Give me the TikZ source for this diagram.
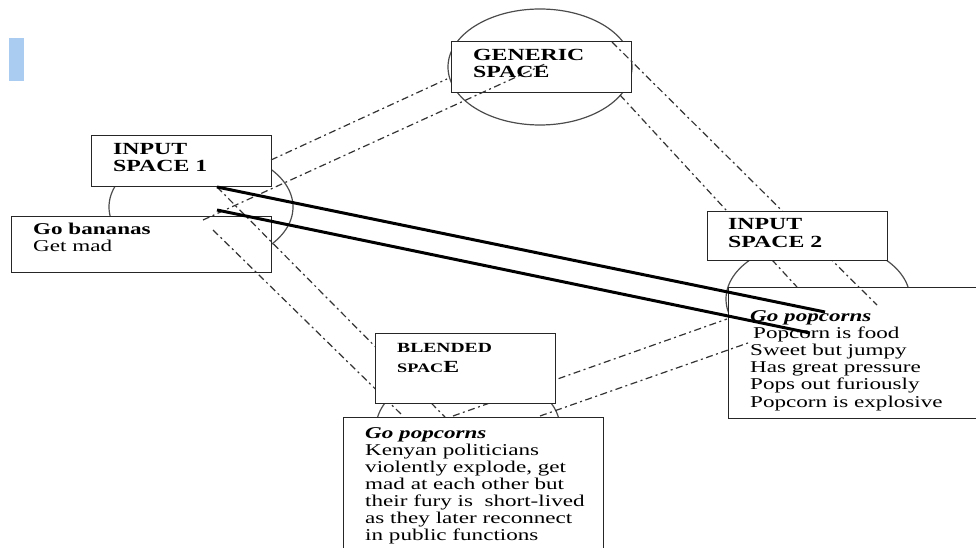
\documentclass[tikz,border=0pt]{standalone}
\usepackage{fontspec}
\setmainfont{Liberation Serif}[FakeStretch=1.4]
\usetikzlibrary{shapes.geometric}
\newcommand{\bodysz}{\fontsize{16.5bp}{17bp}\selectfont}
\newcommand{\headsz}{\fontsize{17bp}{17bp}\selectfont\bfseries}
\definecolor{tabblue}{HTML}{A9CCF0}
\begin{document}
\begin{tikzpicture}[x=1bp,y=-1bp,
  frame/.style={draw=black!85, line width=1.4bp, fill=white, anchor=north west, inner sep=0pt},
  halo/.style={ellipse, draw=black!70, line width=1.2bp, minimum width=184bp, minimum height=116bp, inner sep=0pt},
  link/.style={draw=black!80, line width=1.2bp, dash pattern=on 7bp off 3.5bp on 2bp off 3.5bp},
  tie/.style={draw=black, line width=3bp},
  txt/.style={anchor=base west, inner sep=0pt},
]
\useasboundingbox (0,0) rectangle (976,548);
\clip (0,0) rectangle (976,548);

% side tab
\fill[tabblue] (9,38) rectangle (24,81);

% ellipses behind the space boxes
\node[halo] (in1E) at (201,207) {};
\node[halo] (genE) at (540,67) {};
\node[halo] (in2E) at (818,299) {};
\node[halo] (bldE) at (468,428) {};

% boxes that the mapping lines run over
\node[frame, minimum width=180bp, minimum height=51bp]  (in1) at (91,135) {};
\node[frame, minimum width=260bp, minimum height=56bp]  (ban) at (11,216) {};
\node[frame, minimum width=180bp, minimum height=51bp]  (gen) at (451,41) {};
\node[frame, minimum width=262bp, minimum height=131bp] (pop) at (728,287) {};
\node[frame, minimum width=260bp, minimum height=143bp] (bot) at (343,417) {};

% end points of the mapping lines
\coordinate (g1a) at (271,160); \coordinate (g1b) at (447,79);
\coordinate (g2a) at (203,220); \coordinate (g2b) at (547,63);
\coordinate (ga)  at (612,42);  \coordinate (gb)  at (877,305);
\coordinate (ha)  at (620,95);  \coordinate (hb)  at (797,287);
\coordinate (e1a) at (217,187); \coordinate (e1b) at (445,417);
\coordinate (e2a) at (213,230); \coordinate (e2b) at (403,416);
\coordinate (ca)  at (453,416); \coordinate (cb)  at (727,319);
\coordinate (da)  at (540,416); \coordinate (db)  at (748,343);

% generic space -- input spaces
\draw[link] (g1a) -- (g1b);
\draw[link] (g2a) -- (g2b);
\draw[link] (ga) -- (gb);
\draw[link] (ha) -- (hb);
% input spaces -- blended space
\draw[link] (e1a) -- (e1b);
\draw[link] (e2a) -- (e2b);
\draw[link] (ca) -- (cb);
\draw[link] (da) -- (db);

% boxes drawn over the mapping lines
\node[frame, minimum width=180bp, minimum height=70bp] (bld) at (375,333) {};
\node[frame, minimum width=180bp, minimum height=49bp] (in2) at (707,211) {};

% labels
\node[txt] (in1T) at (113,155) {\parbox[t]{150bp}{\headsz INPUT\\SPACE 1}};
\node[txt] (banT) at (33,235) {\parbox[t]{230bp}{\bodysz\textbf{Go bananas}\\Get mad}};
\node[txt] (genT) at (473,61) {\parbox[t]{150bp}{\headsz GENERIC\\SPACE}};
\node[txt] (in2T) at (728,230) {\parbox[t]{150bp}{\fontsize{17bp}{18bp}\selectfont\bfseries INPUT\\SPACE 2}};
\node[txt] (popT) at (750,322) {\parbox[t]{230bp}{\bodysz\textbf{\textit{Go popcorns}}\\
  \hspace*{3bp}Popcorn is food\\
  Sweet but jumpy\\
  Has great pressure\\
  Pops out furiously\\
  Popcorn is explosive}};
\node[txt] (bldT) at (397,353) {\parbox[t]{150bp}{\bfseries\fontsize{14bp}{20bp}\selectfont BLENDED\\
  {\fontsize{13bp}{20bp}\selectfont SPAC}{\fontsize{17bp}{20bp}\selectfont E}}};
\node[txt] (botT) at (365,438) {\parbox[t]{235bp}{\bodysz\textbf{\textit{Go popcorns}}\\
  Kenyan politicians\\
  violently explode, get\\
  mad at each other but\\
  their fury is~ short-lived\\
  as they later reconnect\\
  in public functions}};

% heavy cross-space links
\coordinate (t1a) at (217,187); \coordinate (t1b) at (825,312);
\coordinate (t2a) at (217,210); \coordinate (t2b) at (810,333);
\draw[tie] (t1a) -- (t1b);
\draw[tie] (t2a) -- (t2b);
\end{tikzpicture}
\end{document}
